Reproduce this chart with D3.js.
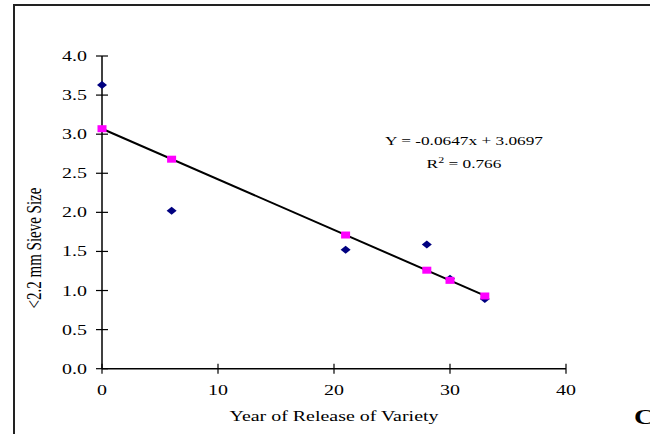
<!DOCTYPE html>
<html>
<head>
<meta charset="utf-8">
<script src="https://cdn.jsdelivr.net/npm/d3@7"></script>
<style>
  body { margin: 0; background: #fff; }
  svg { display: block; font-family: "Liberation Serif", "Times New Roman", serif; }
</style>
</head>
<body>
<script>
  // values
  let years = [0, 6, 21, 28, 30, 33];
  let observed = [3.63, 2.02, 1.52, 1.59, 1.15, 0.89];
  let predicted = [3.07, 2.68, 1.71, 1.26, 1.13, 0.93];
  let trendEnds = [[0, 3.0697], [33, 0.9346]];
  let xTicks = [0, 10, 20, 30, 40];
  let yTicks = [0, 0.5, 1, 1.5, 2, 2.5, 3, 3.5, 4];

  let width = 650, height = 434;
  let stretch = 1.33; // the picture's text is drawn wide

  let svg = d3.select("body").append("svg")
    .attr("width", width)
    .attr("height", height);

  // outer frame (only top and left edges visible)
  svg.append("path")
    .attr("d", "M14,434 L14,5 L650,5")
    .attr("fill", "none")
    .attr("stroke", "#222")
    .attr("stroke-width", 2);

  let xScale = d3.scaleLinear().domain([0, 40]).range([102, 566]);
  let yScale = d3.scaleLinear().domain([0, 4]).range([368.7, 56]);

  function wideText(x, y, size, anchor, str) {
    return svg.append("text")
      .attr("transform", "translate(" + x + "," + y + ") scale(" + stretch + ",1)")
      .attr("text-anchor", anchor)
      .style("font-size", size + "px")
      .text(str);
  }

  // y axis with ticks crossing the line
  svg.append("line")
    .attr("x1", xScale(0)).attr("x2", xScale(0))
    .attr("y1", yScale(0)).attr("y2", yScale(4))
    .attr("stroke", "#000").attr("stroke-width", 1.5);
  svg.selectAll(".ytick")
    .data(yTicks)
    .enter()
    .append("line")
      .attr("x1", xScale(0) - 6).attr("x2", xScale(0) + 6)
      .attr("y1", (d) => yScale(d)).attr("y2", (d) => yScale(d))
      .attr("stroke", "#000").attr("stroke-width", 1.2);
  yTicks.forEach((d) => {
    wideText(xScale(0) - 15, yScale(d) + 5, 15, "end", d.toFixed(1));
  });

  // x axis
  svg.append("line")
    .attr("x1", xScale(0)).attr("x2", xScale(40))
    .attr("y1", yScale(0)).attr("y2", yScale(0))
    .attr("stroke", "#000").attr("stroke-width", 1.5);
  svg.selectAll(".xtick")
    .data(xTicks)
    .enter()
    .append("line")
      .attr("x1", (d) => xScale(d)).attr("x2", (d) => xScale(d))
      .attr("y1", yScale(0) - 5).attr("y2", yScale(0) + 5)
      .attr("stroke", "#000").attr("stroke-width", 1.2);
  xTicks.forEach((d) => {
    wideText(xScale(d), yScale(0) + 26, 15, "middle", d);
  });

  // trend line
  let line = d3.line()
    .x((d) => xScale(d[0]))
    .y((d) => yScale(d[1]));
  svg.append("path")
    .datum(trendEnds)
    .attr("d", line)
    .attr("fill", "none")
    .attr("stroke", "#000")
    .attr("stroke-width", 2);

  // observed values: navy diamonds
  let diamond = "M0,-4 L5,0 L0,4 L-5,0 Z";
  svg.selectAll(".obs")
    .data(years)
    .enter()
    .append("path")
      .attr("d", diamond)
      .attr("transform", (d, i) => "translate(" + xScale(d) + "," + yScale(observed[i]) + ")")
      .attr("fill", "#000080");

  // predicted values: magenta squares
  svg.selectAll(".pred")
    .data(years)
    .enter()
    .append("rect")
      .attr("x", (d) => xScale(d) - 4.5)
      .attr("y", (d, i) => yScale(predicted[i]) - 3.5)
      .attr("width", 9)
      .attr("height", 7)
      .attr("fill", "#ff00ff");

  // equation
  wideText(464, 145, 13, "middle", "Y = -0.0647x + 3.0697");
  let r2 = wideText(464, 168, 13, "middle", "");
  r2.append("tspan").text("R");
  r2.append("tspan").attr("dy", -5).style("font-size", "9px").text("2");
  r2.append("tspan").attr("dy", 5).text(" = 0.766");

  // axis titles
  wideText(334, 421, 15, "middle", "Year of Release of Variety");
  svg.append("text")
    .attr("transform", "translate(41,248) rotate(-90) scale(1," + stretch + ")")
    .attr("text-anchor", "middle")
    .style("font-size", "15px")
    .text("<2.2 mm Sieve Size");

  // cut-off panel letter
  wideText(634, 424, 21, "start", "C").style("font-weight", "bold");
</script>
</body>
</html>
